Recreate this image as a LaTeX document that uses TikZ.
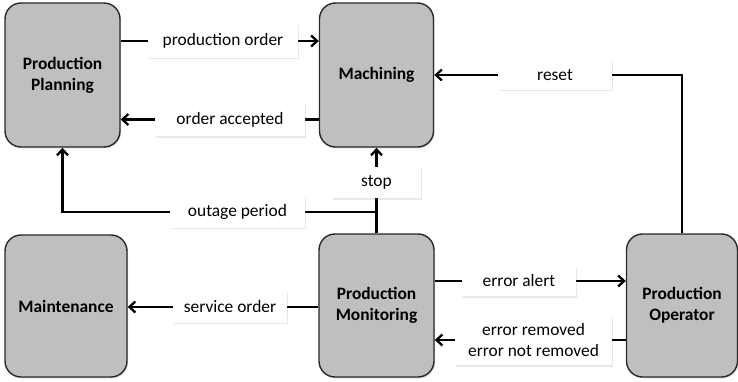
\documentclass[tikz,border=0pt]{standalone}
\usepackage{fontspec}
\setmainfont{Carlito}
\usetikzlibrary{arrows.meta,shadows,backgrounds}
\definecolor{boxgray}{RGB}{191,191,191}
\definecolor{boxedge}{RGB}{40,40,40}
\begin{document}
\begin{tikzpicture}[x=1pt,y=-1pt,
  box/.style={draw=boxedge, line width=1.4pt, fill=boxgray, rounded corners=16pt,
    inner sep=0pt, align=center, font=\fontsize{17.4}{20.8}\selectfont\bfseries,
    drop shadow={shadow xshift=1.2pt, shadow yshift=-1.5pt, opacity=0.25}},
  lbl/.style={fill=white, inner sep=0pt, align=center, font=\fontsize{17.4}{20.8}\selectfont,
    drop shadow={shadow xshift=1pt, shadow yshift=-1.5pt, opacity=0.18}},
  conn/.style={line width=2.3pt, -{Straight Barb[length=6pt,width=11pt]}},
  plain/.style={line width=2.3pt}]
\useasboundingbox (0,0) rectangle (738,382);
% boxes
\node[box, minimum width=115pt, minimum height=144pt] (pp) at (62.5,75) {Production\\Planning};
\node[box, minimum width=114pt, minimum height=144pt] (mach) at (376.5,75) {Machining};
\node[box, minimum width=122pt, minimum height=142pt] (maint) at (66,306) {Maintenance};
\node[box, minimum width=115pt, minimum height=143pt] (mon) at (376.5,305.5) {Production\\Monitoring};
\node[box, minimum width=111pt, minimum height=143pt] (op) at (682,305.5) {Production\\Operator};
% labels
\node[lbl, minimum width=150pt, minimum height=34pt] (po) at (223,41) {production order};
\node[lbl, minimum width=150pt, minimum height=34pt] (oa) at (230,119.5) {order accepted};
\node[lbl, minimum width=114pt, minimum height=30pt] (rs) at (555,75) {reset};
\node[lbl, minimum width=89pt, minimum height=31pt] (st) at (376.5,182.5) {stop};
\node[lbl, minimum width=135pt, minimum height=31pt] (ot) at (237.5,212) {outage period};
\node[lbl, minimum width=114pt, minimum height=30pt] (ea) at (519,281) {error alert};
\node[lbl, minimum width=157pt, minimum height=50pt] (er) at (533.5,340) {error removed\\error not removed};
\node[lbl, minimum width=114pt, minimum height=31pt] (so) at (230,307) {service order};
% connectors
\begin{scope}[on background layer]
\draw[conn] (pp.east |- po) -- (mach.west |- po);
\draw[conn] (mach.west |- oa) -- (pp.east |- oa);
\draw[conn] (op.north) |- (mach.east |- rs);
\draw[conn] (mon.north) -- (mach.south);
\draw[conn] (mon.north) |- (pp.south |- ot) -- (pp.south);
\draw[conn] (mon.east |- ea) -- (op.west |- ea);
\draw[conn] (op.west |- er) -- (mon.east |- er);
\draw[conn] (mon.west |- so) -- (maint.east |- so);
\end{scope}
\end{tikzpicture}
\end{document}
